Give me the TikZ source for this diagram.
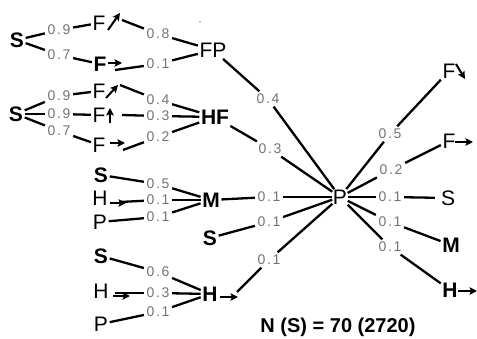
\documentclass[tikz,border=0pt]{standalone}
\usepackage{fontspec}
\setmainfont{Liberation Sans}
\usetikzlibrary{arrows.meta}
\tikzset{
  lt/.style={font=\fontsize{21}{21}\selectfont, inner sep=1.5pt},
  bt/.style={font=\fontsize{21}{21}\selectfont\bfseries, inner sep=1.5pt},
  lab/.style={font=\fontsize{14}{14}\selectfont\addfontfeature{LetterSpace=12}, text=black!55, inner sep=2.5pt},
  con/.style={line width=2.3pt},
  arr/.style={line width=2pt, -{Stealth[length=7.5pt,width=7.5pt,inset=1.5pt]}},
}
\begin{document}
\begin{tikzpicture}[x=1pt,y=-1pt]
\useasboundingbox (0,0) rectangle (477,339);
% ---------- group 1
\node[bt] (S1) at (17,40) {S};
\node[lt] (F1) at (99,23) {F};
\node[bt] (F2) at (100,64) {F};
\node[lt] (FP) at (213,50) {FP};
\node[lab] (l09a) at (59,30) {0.9};
\node[lab] (l07a) at (59,55) {0.7};
\node[lab] (l08) at (158,34) {0.8};
\node[lab] (l01a) at (158,64) {0.1};
\draw[arr] ([shift={(9,7)}]F1.center) -- ++(12,-17);
\draw[arr] ([shift={(8,-1)}]F2.center) -- ++(14,0);
\coordinate (F1o) at ([shift={(23,-3)}]F1.center);
\coordinate (F2o) at ([shift={(15,6)}]F2.center);
\draw[con] (S1) -- (l09a);
\draw[con] (l09a) -- (F1);
\draw[con] (F1o) -- (l08);
\draw[con] (l08) -- (FP);
\draw[con] (S1) -- (l07a);
\draw[con] (l07a) -- (F2);
\draw[con] (F2o) -- (l01a);
\draw[con] (l01a) -- (FP);
\fill (200,22) circle (0.7pt);
% ---------- group 2
\node[bt] (S2) at (16,114) {S};
\node[lt] (F3) at (99,91) {F};
\node[lt] (F4) at (99,115) {F};
\node[lt] (F5) at (99,145) {F};
\node[bt] (HF) at (215,117) {HF};
\node[lab] (l09b) at (59,96) {0.9};
\node[lab] (l09c) at (59,114) {0.9};
\node[lab] (l07b) at (59,131) {0.7};
\node[lab] (l04a) at (158,100) {0.4};
\node[lab] (l03a) at (158,116) {0.3};
\node[lab] (l02a) at (158,137) {0.2};
\draw[arr] ([shift={(7,7)}]F3.center) -- ++(12,-13);
\draw[arr] ([shift={(11,8)}]F4.center) -- ++(0,-15);
\draw[arr] ([shift={(11,-2)}]F5.center) -- ++(15,0);
\coordinate (F3o) at ([shift={(21,-6)}]F3.center);
\coordinate (F4o) at ([shift={(23,0)}]F4.center);
\coordinate (F5o) at ([shift={(24,5)}]F5.center);
\draw[con] (S2) -- (l09b);
\draw[con] (l09b) -- (F3);
\draw[con] (F3o) -- (l04a);
\draw[con] (l04a) -- (HF);
\draw[con] (S2) -- (l09c);
\draw[con] (l09c) -- (F4);
\draw[con] (F4o) -- (l03a);
\draw[con] (l03a) -- (HF);
\draw[con] (S2) -- (l07b);
\draw[con] (l07b) -- (F5);
\draw[con] (F5o) -- (l02a);
\draw[con] (l02a) -- (HF);
% ---------- group 3
\node[bt] (S3) at (101,175) {S};
\node[lt] (H3) at (100,198) {H};
\node[lt] (P3) at (100,222) {P};
\node[bt] (M) at (211,200) {M};
\node[bt] (S4) at (210,238) {S};
\node[lab] (l05a) at (158,184) {0.5};
\node[lab] (l01b) at (158,200) {0.1};
\node[lab] (l01c) at (158,217) {0.1};
\draw[arr] ([shift={(10,5)}]H3.center) -- ++(16,0);
\coordinate (H3o) at ([shift={(20,4)}]H3.center);
\draw[con] (S3) -- (l05a);
\draw[con] (l05a) -- (M);
\draw[con] (H3o) -- (l01b);
\draw[con] (l01b) -- (M);
\draw[con] (P3) -- (l01c);
\draw[con] (l01c) -- (M);
% ---------- group 4
\node[bt] (S5) at (101,256) {S};
\node[lt] (H5) at (101,291) {H};
\node[lt] (P5) at (101,324) {P};
\node[bt] (Hb) at (210,294) {H};
\node[lab] (l06) at (158,272) {0.6};
\node[lab] (l03b) at (158,293) {0.3};
\node[lab] (l01d) at (158,312) {0.1};
\draw[arr] ([shift={(12,5)}]H5.center) -- ++(17,0);
\draw[arr] ([shift={(10,3)}]Hb.center) -- ++(18,0);
\coordinate (H5o) at ([shift={(14,2)}]H5.center);
\coordinate (Hbo) at ([shift={(27,-2)}]Hb.center);
\draw[con] (S5) -- (l06);
\draw[con] (l06) -- (Hb);
\draw[con] (H5o) -- (l03b);
\draw[con] (l03b) -- (Hb);
\draw[con] (P5) -- (l01d);
\draw[con] (l01d) -- (Hb);
% ---------- centre
\node[lt, inner sep=0.5pt] (P) at (340,197) {P};
\node[lab] (l04b) at (268,99) {0.4};
\node[lab] (l03c) at (270,149) {0.3};
\node[lab] (l01e) at (269,197) {0.1};
\node[lab] (l01f) at (269,222) {0.1};
\node[lab] (l01g) at (269,260) {0.1};
\draw[con] (FP) -- (l04b);
\draw[con] (l04b) -- (P);
\draw[con] (HF) -- (l03c);
\draw[con] (l03c) -- (P);
\draw[con] (M) -- (l01e);
\draw[con] (l01e) -- (P);
\draw[con] (S4) -- (l01f);
\draw[con] (l01f) -- (P);
\draw[con] (Hbo) -- (l01g);
\draw[con] (l01g) -- (P);
% ---------- right side
\node[lt] (F6) at (449,71) {F};
\node[lt] (F7) at (449,141) {F};
\node[lt, inner sep=6pt] (S6) at (448,198) {S};
\node[bt] (M6) at (451,245) {M};
\node[bt] (H6) at (450,290) {H};
\draw[arr] ([shift={(7,-7)}]F6.center) -- ++(9,15);
\draw[arr] ([shift={(6,1)}]F7.center) -- ++(18,0);
\draw[arr] ([shift={(8,1)}]H6.center) -- ++(19,0);
\node[lab] (l05b) at (390,134) {0.5};
\node[lab] (l02b) at (391,170) {0.2};
\node[lab] (l01h) at (390,197) {0.1};
\node[lab] (l01i) at (390,222) {0.1};
\node[lab] (l01j) at (390,247) {0.1};
\draw[con] (P) -- (l05b);
\draw[con] (l05b) -- (F6);
\draw[con] (P) -- (l02b);
\draw[con] (l02b) -- (F7);
\draw[con] (P) -- (l01h);
\draw[con] (l01h) -- (S6);
\draw[con] (P) -- (l01i);
\draw[con] (l01i) -- (M6);
\draw[con] (P) -- (l01j);
\draw[con] (l01j) -- (H6);
% ---------- total
\node[font=\fontsize{20}{20}\selectfont\bfseries, inner sep=0pt] (N) at (338,327) {N (S) = 70 (2720)};
\end{tikzpicture}
\end{document}
